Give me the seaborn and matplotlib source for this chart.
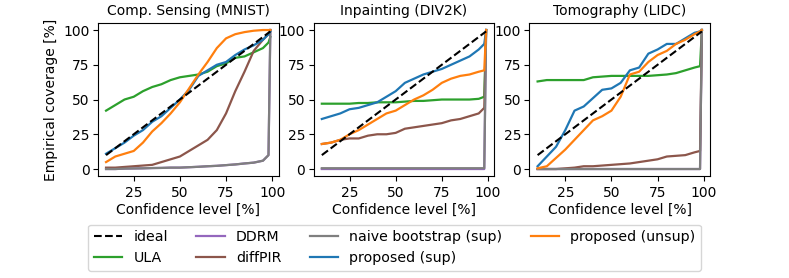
import numpy as np
import pandas as pd
import matplotlib
matplotlib.use("Agg")
import matplotlib.pyplot as plt
import seaborn as sns

conf = [10, 15, 20, 25, 30, 35, 40, 45, 50, 55, 60, 65, 70, 75, 80, 85, 90, 95, 98, 99]

# Comp. Sensing (MNIST)
mnist_ula = [42, 46, 50, 52, 56, 59, 61, 64, 66, 67, 68, 70, 74, 76, 80, 81, 84, 87, 91, 95]
mnist_ddrm = [0, 0, 0.3, 0.4, 0.5, 0.7, 0.8, 1, 1, 1.3, 1.6, 2, 2.3, 2.8, 3.3, 4, 4.6, 6, 10, 100]
mnist_diffpir = [1, 1, 1.5, 2, 2.5, 3, 5, 7, 9, 13, 17, 21, 28, 40, 56, 70, 85, 93, 97, 100]
mnist_naive = [0, 0, 0.3, 0.4, 0.5, 0.7, 0.8, 1, 1, 1.3, 1.6, 2, 2.3, 2.8, 3.3, 4, 4.6, 6, 10, 100]
mnist_sup = [11, 15, 19, 24, 28, 34, 38, 44, 50, 57, 67, 71, 75, 77, 82, 86, 89, 93, 97, 99]
mnist_unsup = [5, 9, 11, 13, 19, 27, 33, 40, 48, 58, 68, 77, 87, 94, 97, 98.5, 99.5, 100, 100, 100]

# Inpainting (DIV2K)
div_ula = [47, 47, 47, 47, 47.5, 47.5, 48, 48, 48, 48.5, 49, 49, 49.5, 50, 50, 50, 50, 50.5, 52, 100]
div_ddrm = [0, 0, 0, 0, 0, 0, 0, 0, 0, 0, 0, 0, 0, 0, 0, 0, 0, 0, 0, 100]
div_diffpir = [18, 19, 21, 22, 22, 24, 25, 25, 26, 29, 30, 31, 32, 33, 35, 36, 38, 40, 44, 100]
div_naive = [0.6, 0.6, 0.6, 0.6, 0.6, 0.6, 0.6, 0.6, 0.6, 0.6, 0.6, 0.6, 0.6, 0.6, 0.6, 0.6, 0.6, 0.6, 0.6, 100]
div_sup = [36, 38, 40, 43, 44, 46, 48, 52, 56, 62, 65, 68, 70, 72, 75, 78, 81, 86, 90, 100]
div_unsup = [18, 19, 21, 25, 28, 32, 36, 40, 42, 46, 50, 53, 57, 62, 65, 67, 68, 70, 71, 100]

# Tomography (LIDC)
lidc_ula = [63, 64, 64, 64, 64, 64, 66, 66.5, 67, 67, 67, 67, 67, 67.5, 68, 69, 71, 73, 74, 100]
lidc_ddrm = [0, 0, 0, 0, 0, 0, 0, 0, 0, 0, 0, 0, 0, 0, 0, 0, 0, 0, 0, 100]
lidc_diffpir = [0, 0, 0, 0.5, 1, 2, 2, 2.5, 3, 3.5, 4, 5, 6, 7, 9, 9.5, 10, 12, 13, 100]
lidc_naive = [0, 0, 0, 0, 0, 0, 0, 0, 0, 0, 0, 0, 0, 0, 0, 0, 0, 0, 0, 100]
lidc_sup = [2, 9, 16, 28, 42, 45, 51, 57, 58, 62, 71, 73, 83, 86, 90, 90, 94, 98, 99, 100]
lidc_unsup = [0.5, 2, 8, 14, 21, 28, 35, 38, 42, 52, 68, 70, 77, 82, 85, 90, 93, 97, 99, 100]

titles = ["Comp. Sensing (MNIST)", "Inpainting (DIV2K)", "Tomography (LIDC)"]
methods = ["ULA", "DDRM", "diffPIR", "naive bootstrap (sup)", "proposed (sup)", "proposed (unsup)"]
colors = ["tab:green", "tab:purple", "tab:brown", "tab:gray", "tab:blue", "tab:orange"]
panels = [
    [mnist_ula, mnist_ddrm, mnist_diffpir, mnist_naive, mnist_sup, mnist_unsup],
    [div_ula, div_ddrm, div_diffpir, div_naive, div_sup, div_unsup],
    [lidc_ula, lidc_ddrm, lidc_diffpir, lidc_naive, lidc_sup, lidc_unsup],
]

plt.rcParams['font.size'] = 10
fig, axes = plt.subplots(1, 3, figsize=(7.89, 2.78), dpi=100)
fig.subplots_adjust(left=0.124, right=0.9, top=0.917, bottom=0.367, wspace=0.194)

for ax, title, series in zip(axes, titles, panels):
    sns.lineplot(x=conf, y=conf, color="black", linestyle="--", lw=1.5, ax=ax,
                 label="ideal", zorder=10)
    for name, col, vals in zip(methods, colors, series):
        sns.lineplot(x=conf, y=vals, color=col, lw=1.6, ax=ax, label=name)
    ax.set_title(title, fontsize=10)
    ax.set_xlabel("Confidence level [%]", fontsize=10, labelpad=2)
    ax.set_ylabel("")
    ax.set_xticks([25, 50, 75, 100])
    ax.set_yticks([0, 25, 50, 75, 100])
    ax.tick_params(labelsize=10)
    ax.tick_params(axis="y", pad=2.5)
    ax.get_legend().remove()

axes[0].set_ylabel("Empirical coverage [%]", fontsize=10)

handles, labels = axes[0].get_legend_handles_labels()
fig.legend(handles, labels, loc="lower center", bbox_to_anchor=(0.5, 0.0), ncol=4,
           fontsize=10.2)

plt.savefig("out.png", dpi=100)
